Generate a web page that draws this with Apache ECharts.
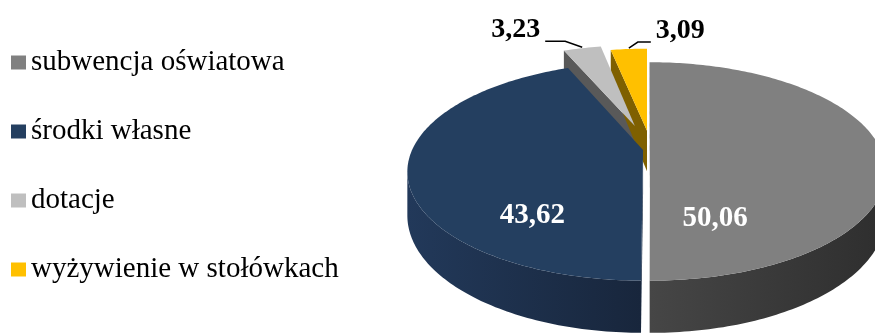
<!DOCTYPE html>
<html>
<head>
<meta charset="utf-8">
<script src="https://cdn.jsdelivr.net/npm/echarts@6/dist/echarts.min.js"></script>
<style>
  html, body { margin: 0; padding: 0; background: #ffffff; }
  #chart { width: 875px; height: 334px; }
</style>
</head>
<body>
<div id="chart"></div>
<script>
// Funding sources (percent shares)
const categories = ['subwencja oświatowa', 'środki własne', 'dotacje', 'wyżywienie w stołówkach'];
const shares = [50.06, 43.62, 3.23, 3.09];

// Slice colours: top face, curved side (gradient stops), radial cut faces
const topColors = ['#808080', '#243F60', '#BFBFBF', '#FFC000'];
const sideColors = [['#464646', '#2e2e2e'], ['#22395a', '#18263c'], ['#595959', '#595959'], ['#7F6000', '#7F6000']];
const cutColors = ['#3a3a3a', '#1c2d45', '#595959', '#7F6000'];

// Projection of the tilted disc (perspective view)
const VIEW = { cx: 647, cy: 150, R: 231, A: 105, k: 0.196, H: 42 };
// Slice explosion offsets in disc units (du right, dv back)
const explode = [[0.013, 0], [-0.017, 0], [-0.055, 0.24], [0, 0.19]];
// Label placement: inside labels [angle fraction, radius]; outside labels use leaders
const labelPlace = [
  { inside: true, f: 0.87, r: 0.63 },
  { inside: true, f: 0.237, r: 0.70 },
  { inside: false, dx1: -17, dy1: -6, dx2: -20 },
  { inside: false, dx1: 9, dy1: -6, dx2: 13 }
];

const total = shares.reduce((a, b) => a + b, 0);
const startAngles = [];
shares.reduce((acc, v) => { startAngles.push(acc / total * 360); return acc + v; }, 0);

const FONT = "'Liberation Serif', 'Times New Roman', serif";

function P(u, v, h) {
  const s = 1 / (1 + VIEW.k * v);
  return [VIEW.cx + VIEW.R * u * s, VIEW.cy + (-VIEW.A * v + VIEW.H * h) * s];
}
function rad(d) { return d * Math.PI / 180; }
function area(pts) {
  let s = 0;
  for (let i = 0; i < pts.length; i++) {
    const a = pts[i], b = pts[(i + 1) % pts.length];
    s += a[0] * b[1] - b[0] * a[1];
  }
  return s / 2;
}

function renderSlice(params, api) {
  const i = params.seriesIndex;
  const val = api.value(0);
  const a0 = startAngles[i];
  const a1 = a0 + val / total * 360;
  const [du, dv] = explode[i];
  const children = [];

  const n = Math.max(2, Math.ceil(a1 - a0));
  const tops = [], bots = [];
  for (let j = 0; j <= n; j++) {
    const phi = rad(a0 + (a1 - a0) * j / n);
    tops.push(P(du + Math.sin(phi), dv + Math.cos(phi), 0));
    bots.push(P(du + Math.sin(phi), dv + Math.cos(phi), 1));
  }

  // curved outer wall: only the segments that face the viewer
  let run = null;
  const flush = () => {
    if (run && run.length > 1) {
      const pts = run.map(j => tops[j]).concat(run.slice().reverse().map(j => bots[j]));
      children.push({
        type: 'polygon', z2: 1,
        shape: { points: pts },
        style: {
          fill: new echarts.graphic.LinearGradient(0, 0, 1, 0, [
            { offset: 0, color: sideColors[i][0] },
            { offset: 1, color: sideColors[i][1] }
          ])
        }
      });
    }
    run = null;
  };
  for (let j = 0; j < n; j++) {
    const vis = area([tops[j], tops[j + 1], bots[j + 1], bots[j]]) < -0.01;
    if (vis) {
      if (!run) run = [j];
      run.push(j + 1);
    } else {
      flush();
    }
  }
  flush();

  // radial cut faces
  const apexT = P(du, dv, 0), apexB = P(du, dv, 1);
  [[a0, -1], [a1, 1]].forEach(([ang, sign]) => {
    const phi = rad(ang);
    const q = [apexT, P(du + Math.sin(phi), dv + Math.cos(phi), 0),
               P(du + Math.sin(phi), dv + Math.cos(phi), 1), apexB];
    if (area(q) * sign > 1) {
      children.push({ type: 'polygon', z2: 2, shape: { points: q }, style: { fill: cutColors[i] } });
    }
  });

  // top face
  children.push({
    type: 'polygon', z2: 3,
    shape: { points: [apexT].concat(tops) },
    style: { fill: topColors[i] }
  });

  // value label
  const txt = val.toFixed(2).replace('.', ',');
  const lp = labelPlace[i];
  if (lp.inside) {
    const phi = rad(a0 + (a1 - a0) * lp.f);
    const p = P(du + lp.r * Math.sin(phi), dv + lp.r * Math.cos(phi), 0);
    children.push({
      type: 'text', z2: 6,
      style: {
        x: p[0], y: p[1], text: txt, fill: '#ffffff',
        font: 'bold 29px ' + FONT, align: 'center', verticalAlign: 'middle'
      }
    });
  } else {
    const phi = rad((a0 + a1) / 2);
    const a = P(du + Math.sin(phi), dv + Math.cos(phi), 0);
    a[1] -= 1;
    const e = [a[0] + lp.dx1, a[1] + lp.dy1];
    const f = [e[0] + lp.dx2, e[1]];
    children.push({
      type: 'polyline', z2: 6,
      shape: { points: [a, e, f] },
      style: { stroke: '#000000', lineWidth: 1.5, fill: null }
    });
    const left = lp.dx2 < 0;
    children.push({
      type: 'text', z2: 6,
      style: {
        x: f[0] + (left ? -5 : 5), y: f[1] - 11, text: txt, fill: '#000000',
        font: 'bold 28px ' + FONT, align: left ? 'right' : 'left', verticalAlign: 'middle'
      }
    });
  }

  return { type: 'group', children };
}

const chart = echarts.init(document.getElementById('chart'), null, { renderer: 'canvas' });
chart.setOption({
  animation: false,
  backgroundColor: '#ffffff',
  legend: {
    orient: 'vertical',
    left: 11,
    top: 48,
    padding: 0,
    icon: 'rect',
    itemWidth: 15,
    itemHeight: 14,
    itemGap: 40,
    data: categories,
    selectedMode: false,
    textStyle: { fontFamily: FONT, fontSize: 29, color: '#000000', lineHeight: 29 }
  },
  series: categories.map((name, i) => ({
    type: 'custom',
    name: name,
    coordinateSystem: 'none',
    silent: true,
    itemStyle: { color: topColors[i] },
    data: [shares[i]],
    renderItem: renderSlice
  }))
});
</script>
</body>
</html>
